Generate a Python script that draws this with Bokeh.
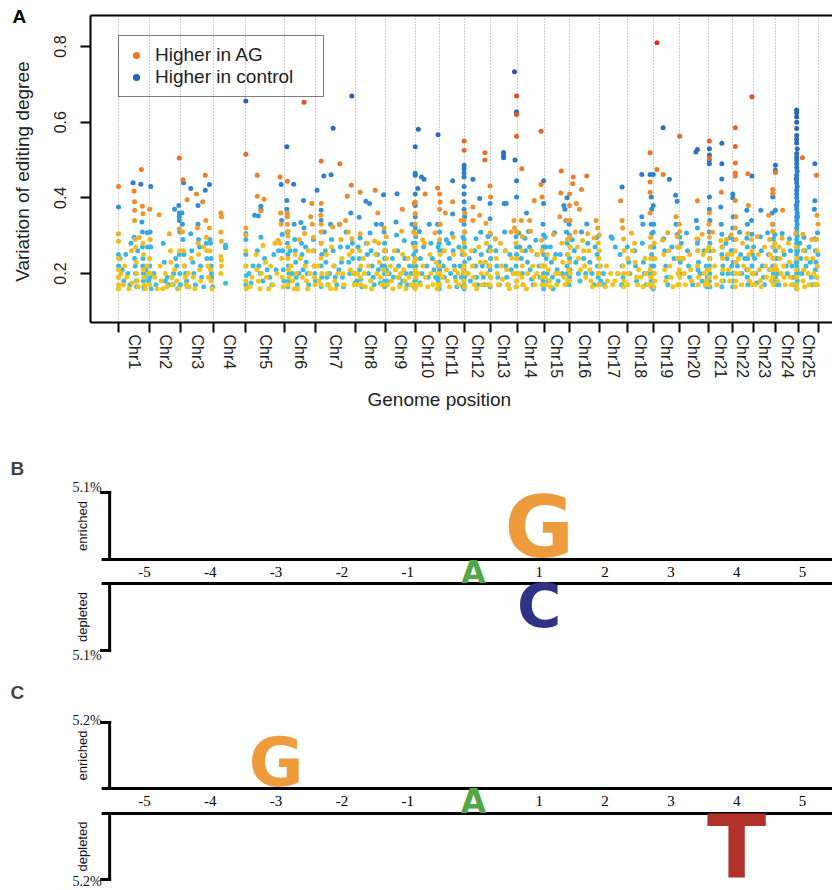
import numpy as np
from bokeh.plotting import figure
from bokeh.models import (ColumnDataSource, Range1d, FixedTicker, LinearAxis, Grid,
                          Legend, LegendItem, Label, LinearColorMapper, Title)
from bokeh.transform import transform
from bokeh.embed import file_html
from bokeh.resources import INLINE
from bokeh.core.properties import value

# ---------------------------------------------------------------- data (panel A)
chrom_names = ["Chr1", "Chr2", "Chr3", "Chr4", "Chr5", "Chr6", "Chr7", "Chr8", "Chr9",
               "Chr10", "Chr11", "Chr12", "Chr13", "Chr14", "Chr15", "Chr16", "Chr17",
               "Chr18", "Chr19", "Chr20", "Chr21", "Chr22", "Chr23", "Chr24", "Chr25"]
chrom_len_mb = [60, 60, 63, 62, 75, 60, 77, 56, 58, 46, 48, 50, 52, 52, 48, 58, 54,
                50, 50, 56, 46, 40, 44, 44, 38]
y_ticks = [0.2, 0.4, 0.6, 0.8]
legend_labels = ["Higher in AG", "Higher in control"]

# (chromosome, position in Mb, variation of editing degree)
ag_points = [
 (1,0,.43),(1,0,.305),(1,0,.285),(1,0,.24),(1,0,.21),(1,0,.19),(1,0,.17),(1,0,.16),(1,5,.2),(1,9,.17),(1,12,.22),(1,16,.19),(1,20,.16),(1,25,.26),(1,26,.175),(1,30,.418),(1,31,.39),(1,31,.367),(1,31,.34),(1,32,.29),(1,33,.27),(1,34,.23),(1,35,.2),(1,36,.18),(1,38,.165),(1,40,.295),(1,44,.475),(1,46,.378),(1,47,.358),(1,47,.28),(1,48,.25),(1,48,.21),(1,49,.19),(1,50,.17),(1,52,.16),(1,55,.22),(1,58,.2),
 (2,0,.37),(2,1,.29),(2,0,.24),(2,1,.2),(2,0,.17),(2,10,.19),(2,14,.16),(2,18,.355),(2,20,.22),(2,22,.18),(2,25,.16),(2,30,.2),(2,33,.165),(2,38,.305),(2,40,.26),(2,41,.23),(2,42,.19),(2,43,.17),(2,48,.21),(2,52,.18),(2,56,.16),(2,57,.505),(2,57,.318),(2,58,.26),
 (3,3,.31),(3,4,.448),(3,5,.26),(3,6,.22),(3,8,.19),(3,10,.17),(3,12,.395),(3,14,.2),(3,16,.165),(3,20,.24),(3,24,.19),(3,27,.16),(3,30,.41),(3,32,.32),(3,33,.28),(3,34,.25),(3,36,.21),(3,38,.18),(3,42,.39),(3,44,.27),(3,47,.46),(3,48,.34),(3,49,.296),(3,50,.26),(3,52,.22),(3,53,.19),(3,55,.32),(3,56,.26),(3,57,.21),(3,58,.18),(3,60,.16),
 (4,14,.36),(4,15,.35),(4,14,.31),(4,15,.285),(4,14,.245),(4,15,.235),(4,15,.22),(4,14,.2),
 (5,0,.515),(5,0,.32),(5,0,.302),(5,0,.26),(5,0,.22),(5,0,.18),(5,1,.16),(5,8,.165),(5,12,.19),(5,20,.25),(5,21,.21),(5,22,.46),(5,22,.404),(5,24,.18),(5,27,.16),(5,29,.365),(5,30,.2),(5,33,.274),(5,35,.396),(5,38,.23),(5,40,.19),(5,44,.16),(5,48,.22),(5,52,.17),(5,56,.28),(5,60,.2),(5,62,.288),(5,66,.455),(5,66,.28),(5,67,.36),(5,68,.33),(5,69,.24),(5,70,.19),(5,72,.165),
 (6,5,.444),(6,5,.36),(6,5,.35),(6,5,.33),(6,6,.312),(6,6,.3),(6,7,.27),(6,6,.24),(6,7,.21),(6,8,.19),(6,6,.17),(6,12,.22),(6,15,.18),(6,18,.16),(6,20,.25),(6,22,.2),(6,25,.16),(6,28,.29),(6,30,.24),(6,34,.19),(6,37,.653),(6,38,.306),(6,39,.22),(6,42,.18),(6,44,.16),(6,45,.26),(6,48,.2),(6,50,.35),(6,52,.385),(6,53,.33),(6,54,.26),(6,55,.296),(6,56,.22),(6,57,.19),(6,58,.17),
 (7,4,.22),(7,6,.18),(7,9,.354),(7,10,.497),(7,10,.385),(7,10,.33),(7,10,.31),(7,11,.28),(7,10,.24),(7,11,.2),(7,10,.17),(7,20,.25),(7,22,.2),(7,24,.17),(7,28,.16),(7,30,.27),(7,32,.323),(7,34,.22),(7,36,.18),(7,38,.16),(7,42,.2),(7,46,.49),(7,46,.33),(7,48,.29),(7,50,.24),(7,52,.2),(7,54,.17),(7,57,.34),(7,60,.404),(7,62,.31),(7,64,.25),(7,66,.21),(7,68,.433),(7,69,.292),(7,70,.26),(7,72,.2),(7,74,.17),
 (8,1,.17),(8,3,.2),(8,8,.415),(8,8,.305),(8,7,.26),(8,9,.22),(8,8,.19),(8,10,.17),(8,14,.24),(8,16,.2),(8,18,.165),(8,22,.28),(8,24,.22),(8,28,.18),(8,30,.16),(8,36,.286),(8,37,.42),(8,38,.25),(8,40,.2),(8,42,.36),(8,44,.28),(8,45,.23),(8,47,.19),(8,50,.17),(8,52,.17),(8,53,.21),(8,54,.32),(8,55,.26),
 (9,2,.297),(9,3,.24),(9,4,.2),(9,5,.17),(9,10,.22),(9,12,.18),(9,15,.16),(9,18,.26),(9,20,.21),(9,25,.19),(9,28,.165),(9,30,.2),(9,32,.312),(9,33,.37),(9,34,.25),(9,36,.21),(9,38,.18),(9,40,.16),(9,44,.24),(9,46,.19),(9,50,.17),(9,55,.31),(9,56,.385),(9,56,.27),(9,56,.23),(9,57,.2),(9,56,.17),
 (10,0,.389),(10,0,.358),(10,0,.331),(10,1,.304),(10,0,.27),(10,1,.24),(10,0,.21),(10,1,.19),(10,0,.17),(10,0,.16),(10,6,.2),(10,10,.17),(10,14,.289),(10,15,.22),(10,18,.28),(10,19,.41),(10,20,.19),(10,24,.165),(10,28,.25),(10,30,.2),(10,34,.17),(10,38,.308),(10,40,.23),(10,42,.16),(10,43,.426),(10,43,.2),(10,44,.17),
 (11,1,.41),(11,2,.389),(11,1,.37),(11,2,.33),(11,1,.29),(11,2,.25),(11,1,.22),(11,2,.2),(11,1,.17),(11,6,.19),(11,10,.26),(11,12,.36),(11,14,.21),(11,16,.18),(11,20,.165),(11,26,.39),(11,27,.296),(11,28,.25),(11,30,.21),(11,32,.18),(11,36,.2),(11,38,.17),(11,42,.34),(11,44,.26),(11,46,.21),(11,47,.18),
 (12,0,.55),(12,0,.526),(12,1,.36),(12,0,.34),(12,1,.31),(12,0,.28),(12,1,.25),(12,0,.22),(12,1,.2),(12,0,.18),(12,1,.165),(12,8,.2),(12,14,.26),(12,16,.22),(12,17,.376),(12,17,.34),(12,18,.19),(12,20,.17),(12,24,.16),(12,28,.27),(12,30,.354),(12,31,.23),(12,33,.2),(12,35,.17),(12,40,.519),(12,40,.5),(12,41,.23),(12,42,.333),(12,43,.28),(12,44,.2),(12,45,.17),
 (13,0,.431),(13,1,.402),(13,0,.307),(13,1,.26),(13,0,.22),(13,1,.19),(13,0,.17),(13,10,.292),(13,12,.24),(13,14,.2),(13,16,.17),(13,20,.28),(13,22,.22),(13,24,.185),(13,30,.26),(13,32,.21),(13,34,.17),(13,37,.16),(13,40,.31),(13,42,.24),(13,44,.2),(13,46,.34),(13,47,.32),(13,50,.28),(13,50,.2),(13,51,.669),(13,51,.62),(13,51,.563),(13,51,.31),(13,51,.24),(13,51,.18),(13,51,.165),
 (14,3,.2),(14,8,.34),(14,9,.477),(14,10,.298),(14,9,.26),(14,10,.22),(14,9,.19),(14,11,.17),(14,18,.16),(14,20,.2),(14,24,.34),(14,26,.312),(14,28,.26),(14,30,.22),(14,32,.19),(14,33,.393),(14,34,.17),(14,38,.2),(14,40,.25),(14,46,.576),(14,46,.435),(14,46,.22),(14,47,.288),(14,47,.19),(14,48,.402),(14,48,.26),(14,48,.17),
 (15,1,.22),(15,2,.19),(15,3,.17),(15,6,.25),(15,8,.21),(15,10,.18),(15,12,.165),(15,18,.303),(15,20,.24),(15,22,.2),(15,24,.17),(15,28,.2),(15,30,.35),(15,32,.413),(15,33,.471),(15,34,.28),(15,36,.23),(15,38,.19),(15,40,.17),(15,44,.34),(15,45,.29),(15,46,.25),(15,46,.18),(15,47,.21),
 (16,1,.41),(16,1,.38),(16,2,.34),(16,1,.296),(16,2,.27),(16,1,.23),(16,2,.2),(16,1,.18),(16,7,.437),(16,8,.455),(16,12,.31),(16,14,.385),(16,16,.27),(16,18,.24),(16,20,.37),(16,22,.21),(16,24,.422),(16,26,.287),(16,28,.26),(16,30,.22),(16,32,.19),(16,34,.458),(16,36,.305),(16,38,.26),(16,40,.21),(16,42,.18),(16,45,.165),(16,48,.294),(16,52,.34),(16,55,.32),(16,56,.28),(16,57,.24),(16,56,.2),(16,57,.17),
 (17,0,.302),(17,0,.26),(17,1,.22),(17,0,.2),(17,1,.17),(17,12,.165),(17,14,.22),(17,16,.18),(17,22,.2),(17,26,.17),(17,30,.18),(17,36,.2),(17,41,.392),(17,44,.34),(17,45,.32),(17,47,.291),(17,48,.26),(17,46,.22),(17,47,.2),(17,48,.18),(17,47,.165),
 (18,1,.24),(18,2,.2),(18,1,.17),(18,8,.307),(18,10,.26),(18,14,.28),(18,15,.23),(18,18,.19),(18,20,.17),(18,22,.21),(18,26,.19),(18,30,.165),(18,34,.24),(18,36,.2),(18,40,.17),(18,44,.519),(18,44,.442),(18,44,.415),(18,44,.36),(18,45,.295),(18,44,.27),(18,45,.24),(18,44,.21),(18,45,.19),(18,44,.17),
 (19,1,.165),(19,2,.28),(19,3,.24),(19,2,.2),(19,3,.18),(19,7,.81),(19,7,.475),(19,18,.288),(19,19,.462),(19,20,.25),(19,22,.21),(19,24,.18),(19,28,.308),(19,30,.26),(19,32,.22),(19,34,.19),(19,38,.165),(19,44,.35),(19,46,.297),(19,47,.24),(19,47,.17),(19,48,.27),(19,48,.2),
 (20,1,.563),(20,0,.33),(20,1,.311),(20,0,.27),(20,1,.24),(20,0,.21),(20,1,.19),(20,0,.17),(20,8,.24),(20,10,.2),(20,12,.17),(20,20,.25),(20,22,.21),(20,24,.18),(20,34,.292),(20,35,.392),(20,35,.22),(20,36,.26),(20,36,.17),(20,37,.19),(20,44,.304),(20,46,.25),(20,48,.2),(20,50,.17),(20,52,.18),(20,53,.26),(20,54,.21),
 (21,2,.55),(21,2,.504),(21,2,.36),(21,1,.33),(21,2,.296),(21,1,.27),(21,2,.24),(21,1,.21),(21,2,.19),(21,1,.17),(21,8,.309),(21,10,.26),(21,12,.22),(21,14,.19),(21,16,.17),(21,24,.287),(21,25,.415),(21,26,.27),(21,26,.18),(21,27,.24),(21,28,.21),(21,35,.29),(21,37,.25),(21,39,.21),(21,41,.18),(21,44,.302),(21,45,.25),
 (22,6,.585),(22,6,.536),(22,6,.492),(22,6,.466),(22,6,.458),(22,6,.393),(22,7,.35),(22,6,.32),(22,7,.29),(22,6,.26),(22,7,.23),(22,6,.2),(22,7,.18),(22,6,.165),(22,12,.24),(22,14,.2),(22,18,.17),(22,20,.28),(22,22,.22),(22,30,.464),(22,30,.306),(22,31,.38),(22,31,.21),(22,32,.25),(22,33,.18),(22,37,.29),(22,38,.667),(22,38,.26),(22,38,.2),(22,39,.17),
 (23,2,.2),(23,4,.17),(23,8,.298),(23,10,.25),(23,12,.21),(23,14,.18),(23,16,.165),(23,22,.27),(23,24,.22),(23,26,.19),(23,30,.354),(23,32,.29),(23,33,.25),(23,34,.21),(23,35,.18),(23,37,.33),(23,38,.422),(23,38,.411),(23,38,.311),(23,38,.24),(23,38,.19),(23,39,.27),(23,39,.21),(23,39,.17),(23,42,.28),(23,43,.467),(23,43,.22),
 (24,2,.21),(24,3,.18),(24,6,.27),(24,8,.24),(24,10,.2),(24,12,.293),(24,13,.367),(24,14,.26),(24,15,.22),(24,16,.19),(24,18,.17),(24,24,.28),(24,26,.23),(24,28,.19),(24,30,.17),(24,38,.307),(24,39,.27),(24,39,.21),(24,39,.17),(24,40,.24),(24,40,.19),(24,41,.16),
 (25,7,.506),(25,8,.304),(25,9,.26),(25,10,.21),(25,8,.18),(25,11,.165),(25,15,.24),(25,18,.2),(25,20,.17),(25,25,.29),(25,27,.24),(25,29,.2),(25,31,.17),(25,34,.46),(25,34,.29),(25,35,.354),(25,35,.26),(25,35,.19),(25,36,.22),(25,36,.17),(25,37,.33),
]

ctrl_points = [
 (1,0,.376),(1,0,.25),(1,0,.22),(1,0,.19),(1,0,.16),(1,3,.24),(1,7,.21),(1,10,.18),(1,14,.25),(1,18,.2),(1,22,.17),(1,24,.28),(1,28,.44),(1,30,.296),(1,31,.24),(1,32,.22),(1,33,.2),(1,34,.18),(1,35,.165),(1,37,.26),(1,43,.436),(1,45,.336),(1,46,.31),(1,46,.27),(1,47,.24),(1,47,.22),(1,48,.2),(1,48,.18),(1,49,.165),(1,50,.16),(1,51,.19),(1,53,.21),(1,55,.308),(1,56,.27),(1,58,.18),
 (2,2,.43),(2,1,.31),(2,2,.27),(2,0,.22),(2,1,.19),(2,3,.16),(2,8,.2),(2,12,.17),(2,26,.28),(2,28,.23),(2,30,.18),(2,34,.19),(2,36,.17),(2,43,.19),(2,45,.17),(2,46,.2),(2,48,.37),(2,50,.24),(2,52,.22),(2,54,.16),(2,56,.38),(2,57,.36),(2,57,.35),(2,57,.34),(2,58,.31),(2,57,.25),(2,58,.2),(2,59,.17),
 (3,2,.36),(3,3,.33),(3,4,.29),(3,5,.44),(3,6,.25),(3,7,.22),(3,9,.2),(3,11,.18),(3,13,.165),(3,19,.425),(3,19,.305),(3,21,.26),(3,23,.23),(3,25,.2),(3,28,.17),(3,33,.38),(3,33,.33),(3,34,.29),(3,36,.27),(3,38,.22),(3,40,.19),(3,44,.165),(3,47,.42),(3,49,.28),(3,50,.24),(3,55,.435),(3,56,.29),(3,57,.28),(3,58,.24),(3,58,.22),(3,59,.2),(3,59,.19),(3,61,.165),
 (4,23,.275),(4,23,.268),(4,23,.174),
 (5,0,.656),(5,0,.306),(5,0,.29),(5,0,.25),(5,0,.22),(5,1,.195),(5,0,.17),(5,6,.2),(5,10,.175),(5,14,.22),(5,17,.354),(5,22,.26),(5,24,.352),(5,25,.22),(5,28,.2),(5,29,.378),(5,29,.37),(5,29,.296),(5,33,.18),(5,36,.24),(5,41,.21),(5,46,.19),(5,50,.17),(5,54,.25),(5,58,.21),(5,63,.26),(5,68,.435),(5,69,.34),(5,70,.303),(5,71,.26),(5,72,.21),(5,73,.18),
 (6,4,.535),(6,4,.393),(6,4,.37),(6,5,.31),(6,5,.28),(6,6,.25),(6,7,.22),(6,8,.2),(6,7,.18),(6,6,.165),(6,10,.26),(6,14,.2),(6,17,.436),(6,18,.33),(6,19,.29),(6,20,.26),(6,21,.23),(6,22,.19),(6,24,.17),(6,27,.2),(6,31,.335),(6,32,.28),(6,33,.25),(6,35,.21),(6,36,.393),(6,37,.32),(6,40,.27),(6,41,.23),(6,43,.2),(6,46,.17),(6,55,.29),(6,56,.26),(6,57,.22),(6,58,.2),(6,59,.18),
 (7,2,.42),(7,10,.367),(7,10,.34),(7,10,.31),(7,10,.28),(7,11,.25),(7,10,.22),(7,11,.19),(7,10,.165),(7,15,.458),(7,16,.31),(7,18,.26),(7,19,.23),(7,21,.19),(7,23,.17),(7,26,.2),(7,28,.33),(7,29,.461),(7,30,.29),(7,33,.584),(7,33,.26),(7,35,.22),(7,37,.19),(7,40,.17),(7,44,.21),(7,45,.33),(7,47,.27),(7,49,.23),(7,51,.19),(7,53,.165),(7,58,.31),(7,61,.27),(7,63,.23),(7,65,.2),(7,67,.36),(7,69,.669),(7,70,.28),(7,71,.24),(7,73,.2),(7,75,.175),
 (8,2,.18),(8,4,.27),(8,6,.349),(8,6,.24),(8,7,.21),(8,8,.294),(8,9,.185),(8,11,.165),(8,19,.391),(8,20,.28),(8,22,.25),(8,24,.2),(8,26,.385),(8,27,.307),(8,29,.26),(8,31,.22),(8,33,.19),(8,35,.17),(8,39,.33),(8,41,.25),(8,43,.21),(8,47,.175),(8,49,.33),(8,50,.22),(8,53,.408),(8,54,.31),(8,55,.28),(8,55,.26),(8,55,.24),(8,55,.22),(8,55,.2),(8,55,.18),(8,55,.165),
 (9,1,.26),(9,2,.21),(9,3,.18),(9,8,.2),(9,14,.24),(9,16,.19),(9,21,.336),(9,22,.302),(9,23,.411),(9,24,.26),(9,26,.22),(9,27,.19),(9,29,.17),(9,34,.18),(9,37,.287),(9,38,.24),(9,40,.2),(9,42,.17),(9,47,.22),(9,50,.2),(9,52,.33),(9,54,.28),(9,55,.25),(9,55,.22),(9,56,.2),(9,57,.18),(9,56,.165),
 (10,0,.535),(10,0,.465),(10,0,.46),(10,0,.41),(10,0,.38),(10,0,.35),(10,0,.32),(10,1,.297),(10,0,.28),(10,1,.26),(10,0,.24),(10,1,.22),(10,0,.2),(10,1,.185),(10,0,.165),(10,5,.425),(10,6,.581),(10,8,.311),(10,9,.175),(10,10,.24),(10,12,.455),(10,13,.2),(10,16,.27),(10,17,.449),(10,22,.22),(10,25,.19),(10,27,.33),(10,30,.28),(10,33,.24),(10,36,.21),(10,39,.19),(10,43,.33),(10,44,.567),(10,44,.27),(10,44,.18),(10,45,.22),
 (11,0,.33),(11,1,.31),(11,0,.28),(11,1,.26),(11,0,.23),(11,1,.21),(11,0,.19),(11,1,.17),(11,0,.16),(11,6,.26),(11,8,.22),(11,10,.19),(11,14,.289),(11,18,.28),(11,20,.24),(11,22,.2),(11,25,.306),(11,26,.445),(11,26,.357),(11,27,.26),(11,29,.22),(11,31,.19),(11,34,.165),(11,38,.27),(11,40,.22),(11,43,.19),(11,45,.25),(11,46,.296),(11,46,.165),(11,47,.2),
 (12,0,.486),(12,0,.477),(12,0,.466),(12,0,.455),(12,0,.43),(12,0,.41),(12,0,.39),(12,0,.37),(12,1,.35),(12,0,.33),(12,1,.31),(12,0,.29),(12,1,.27),(12,0,.25),(12,1,.23),(12,0,.21),(12,1,.19),(12,0,.17),(12,0,.16),(12,5,.2),(12,10,.24),(12,12,.18),(12,17,.449),(12,20,.26),(12,22,.22),(12,23,.292),(12,24,.19),(12,26,.17),(12,30,.398),(12,32,.309),(12,33,.25),(12,35,.22),(12,37,.19),(12,39,.17),(12,46,.298),(12,47,.26),(12,48,.22),
 (13,0,.385),(13,0,.345),(13,1,.304),(13,0,.27),(13,1,.24),(13,0,.21),(13,1,.19),(13,0,.165),(13,10,.291),(13,11,.26),(13,13,.22),(13,15,.19),(13,18,.17),(13,26,.52),(13,26,.513),(13,26,.506),(13,27,.385),(13,28,.31),(13,29,.26),(13,30,.22),(13,31,.385),(13,32,.19),(13,35,.17),(13,38,.25),(13,41,.21),(13,47,.733),(13,48,.5),(13,50,.297),(13,50,.22),(13,50,.165),(13,51,.627),(13,51,.623),(13,51,.445),(13,51,.402),(13,51,.27),(13,51,.25),(13,51,.2),(13,51,.18),
 (14,3,.307),(14,5,.27),(14,8,.24),(14,10,.2),(14,12,.17),(14,15,.293),(14,16,.26),(14,18,.36),(14,20,.23),(14,22,.311),(14,24,.27),(14,25,.21),(14,28,.185),(14,31,.17),(14,36,.288),(14,38,.25),(14,42,.22),(14,44,.19),(14,50,.33),(14,50,.27),(14,50,.22),(14,50,.18),(14,51,.445),(14,51,.385),(14,51,.302),(14,51,.25),(14,51,.2),(14,51,.16),
 (15,2,.296),(15,3,.27),(15,4,.24),(15,6,.2),(15,8,.18),(15,12,.27),(15,14,.23),(15,16,.19),(15,17,.16),(15,20,.308),(15,22,.25),(15,25,.21),(15,27,.18),(15,31,.25),(15,35,.2),(15,38,.38),(15,40,.37),(15,42,.34),(15,43,.31),(15,44,.4),(15,44,.28),(15,44,.22),(15,45,.25),(15,45,.2),(15,46,.18),
 (16,0,.33),(16,1,.301),(16,2,.27),(16,1,.24),(16,2,.21),(16,1,.19),(16,0,.17),(16,6,.289),(16,10,.26),(16,13,.23),(16,18,.2),(16,21,.18),(16,24,.31),(16,28,.24),(16,32,.2),(16,34,.331),(16,36,.28),(16,40,.23),(16,44,.2),(16,48,.17),(16,50,.27),(16,53,.295),(16,54,.25),(16,55,.22),(16,56,.19),(16,57,.17),
 (17,2,.22),(17,3,.18),(17,8,.2),(17,10,.17),(17,23,.297),(17,25,.293),(17,31,.27),(17,36,.2),(17,40,.25),(17,43,.17),(17,44,.429),(17,44,.22),(17,46,.19),
 (18,0,.27),(18,3,.23),(18,5,.2),(18,14,.26),(18,16,.22),(18,18,.18),(18,28,.462),(18,28,.35),(18,29,.28),(18,30,.33),(18,31,.23),(18,33,.2),(18,36,.17),(18,40,.2),(18,44,.462),(18,46,.402),(18,46,.33),(18,46,.27),(18,46,.22),(18,46,.18),(18,47,.37),(18,47,.306),(18,47,.25),(18,47,.2),(18,47,.165),
 (19,0,.462),(19,0,.38),(19,1,.33),(19,0,.309),(19,1,.27),(19,0,.24),(19,1,.22),(19,0,.2),(19,1,.18),(19,0,.16),(19,19,.585),(19,20,.292),(19,22,.26),(19,24,.22),(19,26,.19),(19,28,.17),(19,31,.449),(19,36,.27),(19,40,.24),(19,43,.407),(19,44,.33),(19,46,.391),(19,46,.303),(19,47,.27),(19,48,.24),(19,48,.17),(19,49,.2),
 (20,1,.296),(20,0,.27),(20,2,.23),(20,1,.2),(20,4,.28),(20,6,.24),(20,14,.307),(20,16,.26),(20,18,.22),(20,20,.19),(20,26,.17),(20,32,.521),(20,33,.34),(20,35,.528),(20,35,.32),(20,35,.28),(20,36,.29),(20,36,.26),(20,36,.21),(20,37,.23),(20,40,.2),(20,44,.18),(20,48,.26),(20,52,.22),(20,53,.165),(20,54,.19),
 (21,2,.53),(21,2,.513),(21,2,.5),(21,2,.49),(21,2,.402),(21,2,.37),(21,3,.34),(21,2,.31),(21,3,.28),(21,2,.26),(21,3,.24),(21,2,.22),(21,3,.2),(21,2,.18),(21,3,.165),(21,24,.376),(21,25,.33),(21,26,.544),(21,26,.49),(21,26,.45),(21,26,.304),(21,26,.25),(21,26,.165),(21,27,.27),(21,27,.2),(21,28,.22),(21,29,.18),(21,34,.28),(21,36,.24),(21,38,.2),(21,42,.295),(21,44,.26),(21,45,.22),
 (22,1,.41),(22,1,.4),(22,2,.35),(22,1,.32),(22,2,.29),(22,1,.26),(22,2,.23),(22,1,.2),(22,2,.18),(22,1,.165),(22,10,.22),(22,14,.309),(22,16,.25),(22,18,.2),(22,24,.24),(22,28,.367),(22,28,.293),(22,28,.21),(22,29,.33),(22,29,.27),(22,29,.19),(22,30,.24),(22,30,.17),(22,37,.34),(22,38,.458),(22,38,.304),(22,38,.22),(22,39,.25),
 (23,1,.27),(23,3,.24),(23,5,.2),(23,7,.175),(23,14,.297),(23,15,.367),(23,16,.26),(23,18,.22),(23,20,.19),(23,22,.17),(23,28,.308),(23,30,.25),(23,32,.21),(23,37,.36),(23,38,.402),(23,38,.33),(23,38,.27),(23,38,.22),(23,38,.18),(23,39,.291),(23,39,.24),(23,39,.2),(23,42,.303),(23,42,.22),(23,42,.17),(23,43,.486),(23,43,.473),(23,43,.367),(23,43,.26),(23,43,.19),
 (24,2,.24),(24,4,.2),(24,6,.17),(24,12,.306),(24,16,.25),(24,20,.22),(24,22,.2),(24,26,.292),(24,28,.26),(24,31,.22),(24,33,.19),(24,35,.17),(24,39,.45),(24,39,.38),(24,39,.305),(24,39,.23),(24,40,.632),(24,40,.625),(24,40,.614),(24,40,.6),(24,40,.583),(24,40,.565),(24,40,.555),(24,40,.545),(24,41,.53),(24,40,.517),(24,40,.508),(24,40,.5),(24,40,.49),(24,40,.48),(24,41,.47),(24,40,.46),(24,40,.45),(24,40,.44),(24,41,.43),(24,40,.42),(24,40,.41),(24,40,.4),(24,41,.39),(24,40,.38),(24,40,.37),(24,41,.36),(24,40,.35),(24,40,.34),(24,41,.33),(24,40,.32),(24,40,.31),(24,41,.3),(24,40,.29),(24,40,.28),(24,41,.27),(24,40,.26),(24,40,.25),(24,41,.24),(24,40,.23),(24,40,.22),(24,41,.21),(24,40,.2),(24,40,.19),(24,41,.18),(24,40,.17),(24,40,.16),(24,42,.35),(24,42,.26),(24,42,.2),
 (25,2,.28),(25,4,.24),(25,6,.2),(25,10,.296),(25,12,.26),(25,14,.22),(25,20,.27),(25,22,.23),(25,24,.19),(25,26,.17),(25,30,.37),(25,31,.49),(25,31,.392),(25,31,.292),(25,32,.26),(25,32,.21),(25,33,.29),(25,33,.23),(25,33,.17),(25,34,.19),(25,36,.308),(25,37,.25),
]

# ---------------------------------------------------------------- data (panels B, C)
logo_positions = [-5, -4, -3, -2, -1, 0, 1, 2, 3, 4, 5]
edited_base = "A"
b_scale_pct = 5.1
b_enriched = [("G", 1, 4.9)]
b_depleted = [("C", 1, 3.5)]
c_scale_pct = 5.2
c_enriched = [("G", -3, 4.0)]
c_depleted = [("T", 4, 5.2)]

# ---------------------------------------------------------------- styling helpers
W = 832
SANS = "Liberation Sans"
SERIF = "Liberation Serif"


def ramp(anchors, n=66, lo=0.15, hi=0.8):
    vs = np.array([a[0] for a in anchors])
    cols = np.array([[int(h[i:i + 2], 16) for i in (1, 3, 5)] for _, h in anchors], float)
    out = []
    for g in np.linspace(lo, hi, n):
        rgb = [int(round(np.interp(g, vs, cols[:, k]))) for k in range(3)]
        out.append("#%02x%02x%02x" % tuple(rgb))
    return out


ag_anchors = [(0.15, "#F5C518"), (0.27, "#F4BC1F"), (0.31, "#F3A428"), (0.37, "#F18E2B"),
              (0.48, "#EE7526"), (0.62, "#EA5422"), (0.80, "#E4301C")]
ct_anchors = [(0.15, "#3EBFE8"), (0.29, "#37B3E3"), (0.34, "#3299DA"), (0.42, "#2D83CF"),
              (0.55, "#2A6BBF"), (0.80, "#2552A8")]

# ---------------------------------------------------------------- panel A
lens = np.array(chrom_len_mb, float)
starts = np.concatenate([[0.0], np.cumsum(lens)[:-1]])
bounds = np.concatenate([[0.0], np.cumsum(lens)])
mids = starts + lens / 2


def to_source(points):
    ch = np.array([p[0] for p in points], int)
    pos = np.array([p[1] for p in points], float)
    v = np.array([p[2] for p in points], float)
    return ColumnDataSource(dict(x=starts[ch - 1] + pos, y=v, v=v))


src_ag = to_source(ag_points)
src_ct = to_source(ctrl_points)

FRAME_L, FRAME_T, FRAME_B, HA = 90, 15, 322, 440
ppm = 700.0 / lens.sum()          # px per Mb
x_start = -28.0 / ppm
x_end = x_start + (W - FRAME_L) / ppm

pA = figure(width=W, height=HA, output_backend="svg", toolbar_location=None,
            x_range=Range1d(x_start, x_end), y_range=Range1d(0.0705, 0.882),
            x_axis_location=None, y_axis_location=None,
            min_border_left=FRAME_L, min_border_right=0, min_border_top=FRAME_T,
            min_border_bottom=HA - FRAME_B)
pA.outline_line_color = None
pA.xgrid.visible = False
pA.ygrid.visible = False

xax = LinearAxis(ticker=FixedTicker(ticks=[float(m) for m in mids], minor_ticks=[float(b) for b in bounds]),
                 major_label_overrides={float(m): n for m, n in zip(mids, chrom_names)},
                 major_label_orientation="vertical", major_label_standoff=2,
                 major_label_text_font=SANS, major_label_text_font_size="16px",
                 major_label_text_color="#222222",
                 major_tick_out=10, major_tick_in=0, major_tick_line_color=None,
                 minor_tick_out=10, minor_tick_in=0, minor_tick_line_color="black",
                 minor_tick_line_width=2, axis_line_width=2, axis_line_color="black")
pA.add_layout(xax, "below")

yax = LinearAxis(ticker=FixedTicker(ticks=y_ticks), axis_label="Variation of  editing degree",
                 axis_label_text_font=SANS, axis_label_text_font_size="19px",
                 axis_label_text_font_style="normal", axis_label_text_color="#222222",
                 axis_label_standoff=19,
                 major_label_orientation="vertical", major_label_standoff=14,
                 major_label_text_font=SANS, major_label_text_font_size="16px",
                 major_label_text_color="#222222",
                 major_tick_out=10, major_tick_in=0, major_tick_line_width=2,
                 minor_tick_line_color=None, axis_line_width=2, axis_line_color="black")
pA.add_layout(yax, "left")

tax = LinearAxis(ticker=FixedTicker(ticks=[]), major_tick_out=0, major_tick_in=0,
                 minor_tick_out=0, minor_tick_in=0, major_label_standoff=0,
                 axis_label_standoff=0, axis_line_width=2, axis_line_color="black",
                 major_label_text_font_size="0px")
pA.add_layout(tax, "above")

pA.add_layout(Title(text="A", align="left", offset=12 - FRAME_L, standoff=-22,
                    text_font=SANS, text_font_size="19px", text_font_style="bold",
                    text_color="black"), "above")
pA.add_layout(Title(text="Genome  position", align="left", offset=277, standoff=14,
                    vertical_align="top", text_font=SANS, text_font_size="19px",
                    text_font_style="normal", text_color="#222222"), "below")

grid = Grid(dimension=0, ticker=xax.ticker, grid_line_color=None,
            minor_grid_line_color="#a0a0a0", minor_grid_line_dash="1 2", minor_grid_line_width=1)
pA.add_layout(grid)

ag_map = LinearColorMapper(palette=ramp(ag_anchors), low=0.15, high=0.8)
ct_map = LinearColorMapper(palette=ramp(ct_anchors), low=0.15, high=0.8)
rC = pA.scatter("x", "y", source=src_ct, size=5, fill_color=transform("v", ct_map), line_color=None)
rA = pA.scatter("x", "y", source=src_ag, size=5, fill_color=transform("v", ag_map), line_color=None)

iA = int(np.argmax(np.array(src_ag.data["v"]) >= 0.45))
iC = int(np.argmax(np.array(src_ct.data["v"]) >= 0.45))
legend = Legend(items=[LegendItem(label=legend_labels[0], renderers=[rA], index=iA),
                       LegendItem(label=legend_labels[1], renderers=[rC], index=iC)],
                location=(28, 225), margin=0, padding=8, spacing=0,
                glyph_width=18, glyph_height=20, label_height=20, label_width=160,
                label_standoff=10, label_text_font=SANS, label_text_font_size="19px",
                label_text_color="#222222",
                border_line_color="black", border_line_width=1.5, background_fill_alpha=0)
pA.add_layout(legend)

# ---------------------------------------------------------------- panels B and C
LETTER_COLORS = {"G": "#EE9B3B", "A": "#52A646", "C": "#2F3285", "T": "#B0322A"}
CAP = 0.76           # letter height of DejaVu Sans Bold capitals, in em
COL_PX = 65.8        # width of one logo column
POS0_PX = 473.0      # x of the edited base inside the figure


def logo_panel(tag, tag_top, scale_pct, enriched, depleted, height, base_px, gap_px, span_px, pct_off_px):
    ppu = span_px / scale_pct
    gap = gap_px / ppu
    x0 = -POS0_PX / COL_PX
    x1 = (W - POS0_PX) / COL_PX
    p = figure(width=W, height=height, output_backend="svg", toolbar_location=None,
               x_range=Range1d(x0, x1), y_range=Range1d(-(height - base_px) / ppu, base_px / ppu),
               x_axis_location=None, y_axis_location=None, min_border=0)
    p.outline_line_color = None
    p.xgrid.visible = False
    p.ygrid.visible = False
    bx = min(logo_positions) - 0.53
    tl = 8.0 / COL_PX
    lw = 3
    # the two baselines
    p.segment(x0=[bx - tl, bx - tl], y0=[0, -gap], x1=[x1 + 1, x1 + 1], y1=[0, -gap],
              line_color="black", line_width=lw)
    # the scale brackets
    p.segment(x0=[bx, bx, bx - tl, bx - tl], y0=[0, -gap, scale_pct, -gap - scale_pct],
              x1=[bx, bx, bx, bx], y1=[scale_pct, -gap - scale_pct, scale_pct, -gap - scale_pct],
              line_color="black", line_width=lw, line_cap="square")
    # position numbers
    nums = [q for q in logo_positions if q != 0]
    p.text(x=nums, y=[-gap / 2] * len(nums), text=[str(q) for q in nums],
           text_font=value(SERIF), text_font_size="15px", text_color="black",
           text_align="center", text_baseline="middle")
    # letters: (letter, position, bottom, height)
    rows = [(t, q, 0.0, v) for (t, q, v) in enriched]
    rows += [(t, q, -gap - v, v) for (t, q, v) in depleted]
    rows.append((edited_base, 0, -gap, gap))
    src = ColumnDataSource(dict(x=[r[1] for r in rows], y=[r[2] + r[3] / 2 for r in rows],
                                t=[r[0] for r in rows],
                                fs=["%.1fpx" % (r[3] * ppu / CAP) for r in rows],
                                c=[LETTER_COLORS[r[0]] for r in rows]))
    p.text("x", "y", text="t", source=src, text_font=value("DejaVu Sans"), text_font_style="bold",
           text_font_size="fs", text_color="c", text_align="center", text_baseline="middle")
    # side labels
    lx = bx - 27.0 / COL_PX
    p.text(x=[lx, lx], y=[scale_pct / 2, -gap - scale_pct / 2], text=["enriched", "depleted"],
           angle=np.pi / 2, text_font=value(SANS), text_font_size="13px", text_color="#111111",
           text_align="center", text_baseline="middle")
    pct = "%g%%" % scale_pct
    off = pct_off_px / ppu
    p.text(x=[bx - tl, bx - tl], y=[scale_pct + off, -gap - scale_pct - off], text=[pct, pct],
           text_font=value(SERIF), text_font_size="14px", text_color="#111111",
           text_align="right", text_baseline="middle")
    p.add_layout(Label(x=10, y=height - tag_top, x_units="screen", y_units="screen", text=tag,
                       text_font=SANS, text_font_size="19px", text_font_style="bold",
                       text_align="left", text_baseline="middle"))
    return p


pB = logo_panel("B", 28, b_scale_pct, b_enriched, b_depleted, 230, 119, 24, 67, 5)
pC = logo_panel("C", 22, c_scale_pct, c_enriched, c_depleted, 220, 118, 25, 66, 2)

open("out.html", "w").write(file_html([pA, pB, pC], INLINE))
